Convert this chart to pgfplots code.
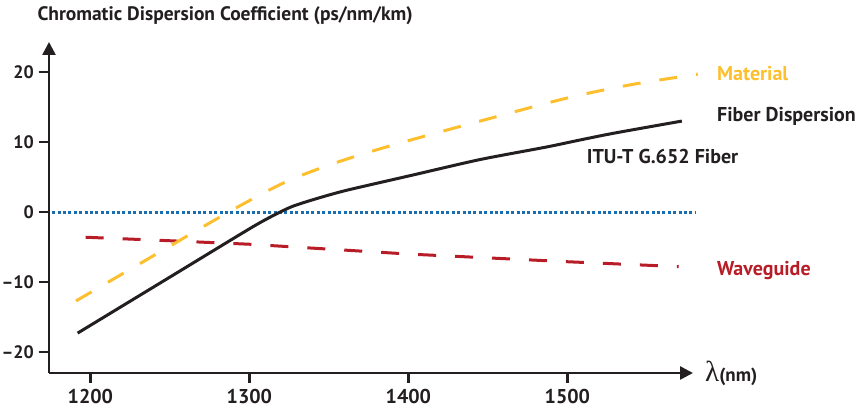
\documentclass[border=0pt]{standalone}
\usepackage{fontspec}
\setmainfont{PT Sans}
\newfontfamily\lamfont{Liberation Serif}
\usepackage{pgfplots}
\pgfplotsset{compat=1.18}
\usetikzlibrary{arrows.meta}

\definecolor{matyel}{HTML}{FDBF2D}
\definecolor{wgred}{HTML}{B81C26}
\definecolor{zeroblue}{HTML}{1A6DAF}
\definecolor{axisblk}{HTML}{231F20}

\begin{document}
\begin{tikzpicture}
\useasboundingbox (-49pt,-39pt) rectangle (814pt,373pt);
\begin{axis}[
    scale only axis,
    width=644pt, height=331pt,
    xmin=1174, xmax=1579,
    ymin=-23, ymax=24.3,
    axis lines=left,
    axis line style={line width=2.6pt, color=axisblk, -{Triangle[length=13pt,width=13pt]}},
    xtick={1200,1300,1400,1500},
    xticklabels={1200,1300,1400,1500},
    ytick={-20,-10,0,10,20},
    yticklabels={--20,--10,0,10,20},
    tick align=outside,
    major tick length=10pt,
    tick style={line width=2.6pt, color=axisblk},
    ticklabel style={font=\fontsize{20}{23}\selectfont\bfseries, text=axisblk},
    xticklabel style={yshift=-3pt},
    yticklabel style={font=\fontsize{18}{22}\selectfont\bfseries, inner sep=0pt, xshift=-5pt},
    clip=false,
]
% zero line
\addplot[zeroblue, line width=3pt, dash pattern=on 3pt off 2.4pt] coordinates {(1176,0) (1581,0)};

% waveguide
\addplot[wgred, line width=3pt, dash pattern=on 18pt off 19pt] coordinates {
    (1197,-3.6) (1250,-4.1) (1300,-4.6) (1400,-6.0) (1500,-7.1) (1570,-7.8)
};

% material
\addplot[matyel, line width=3pt, dash pattern=on 18pt off 19pt, smooth] coordinates {
    (1191,-12.7) (1240,-6.2) (1287,0) (1320,4.0) (1345,6.3) (1370,8.2)
    (1400,10.2) (1450,13.3) (1500,16.3) (1540,18.2) (1582,19.7)
};

% fiber dispersion
\addplot[axisblk, line width=3pt, line join=round, smooth, tension=0.4] coordinates {
    (1192,-17.3) (1250,-9.3) (1300,-2.4) (1315,-0.5) (1327,0.8) (1342,1.9)
    (1361,3.1) (1403,5.3) (1445,7.5) (1487,9.3) (1508,10.3) (1530,11.3) (1572,13.0)
};

\node[anchor=west, text=matyel, font=\fontsize{20}{24}\selectfont\bfseries] at (axis cs:1592,19.8) {Material};
\node[anchor=west, text=axisblk, font=\fontsize{20}{24}\selectfont\bfseries] at (axis cs:1592,13.7) {Fiber Dispersion};
\node[anchor=west, text=axisblk, font=\fontsize{20}{24}\selectfont\bfseries] at (axis cs:1510,7.9) {ITU-T G.652 Fiber};
\node[anchor=west, text=wgred, font=\fontsize{20}{24}\selectfont\bfseries] at (axis cs:1592,-8.3) {Waveguide};
\end{axis}
\node[anchor=west, text=axisblk, font=\fontsize{19.5}{23}\selectfont\bfseries] at (-15pt,357pt) {Chromatic Dispersion Coefficient (ps/nm/km)};
\node[anchor=base west, inner sep=0pt, text=axisblk] at (656pt,-9pt) {{\lamfont\fontsize{29}{32}\selectfont λ}{\fontsize{19}{22}\selectfont\bfseries(nm)}};
\end{tikzpicture}
\end{document}
